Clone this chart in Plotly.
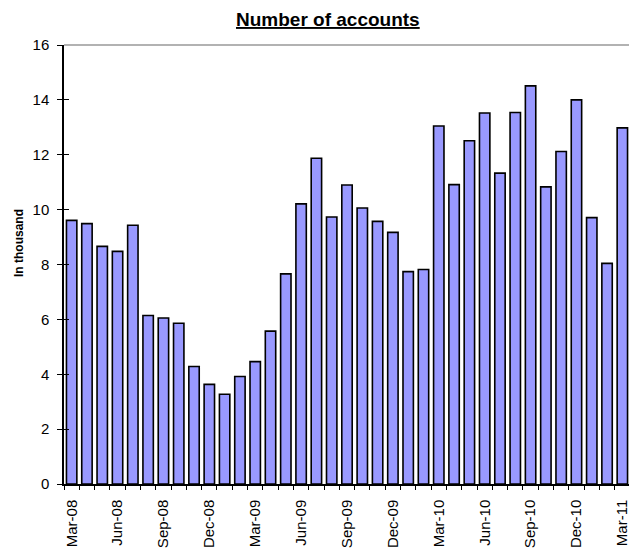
import plotly.graph_objects as go

months = ["Mar-08","Apr-08","May-08","Jun-08","Jul-08","Aug-08","Sep-08","Oct-08","Nov-08","Dec-08",
          "Jan-09","Feb-09","Mar-09","Apr-09","May-09","Jun-09","Jul-09","Aug-09","Sep-09","Oct-09",
          "Nov-09","Dec-09","Jan-10","Feb-10","Mar-10","Apr-10","May-10","Jun-10","Jul-10","Aug-10",
          "Sep-10","Oct-10","Nov-10","Dec-10","Jan-11","Feb-11","Mar-11"]
accounts = [9.61, 9.49, 8.66, 8.48, 9.43, 6.14, 6.05, 5.86, 4.28, 3.63,
            3.27, 3.92, 4.46, 5.57, 7.66, 10.21, 11.87, 9.73, 10.90, 10.06,
            9.57, 9.17, 7.74, 7.82, 13.05, 10.91, 12.51, 13.52, 11.33, 13.54,
            14.51, 10.83, 12.12, 14.00, 9.71, 8.04, 12.98]
label_step = 3
y_ticks = [0, 2, 4, 6, 8, 10, 12, 14, 16]

n = len(months)
xs = list(range(n))
tickvals = xs[::label_step]
ticktext = months[::label_step]
boundaries = [i - 0.5 for i in range(n + 1)]

W, H = 629, 547  # page body has an 8px margin
L, R, T, B = 56, 7, 37, 71
PW, PH = W - L - R, H - T - B

fig = go.Figure(go.Bar(
    x=xs, y=accounts,
    marker=dict(color="#9999FF", line=dict(color="black", width=1.6)),
    width=0.68,
))
# invisible helper trace so the overlay axis is drawn (inside ticks)
fig.add_trace(go.Scatter(x=[None], y=[None], yaxis="y2", showlegend=False, hoverinfo="skip"))

fig.update_layout(
    width=W, height=H,
    margin=dict(l=L, r=R, t=T, b=B),
    paper_bgcolor="white", plot_bgcolor="white",
    showlegend=False,
    font=dict(family="Liberation Sans, Arial, sans-serif", color="black", size=15),
    xaxis=dict(range=[-0.5, n - 0.5], tickmode="array", tickvals=tickvals, ticktext=ticktext,
               tickangle=-90, ticks="", showgrid=False, zeroline=False,
               showline=True, linecolor="black", linewidth=1.5, ticklabelstandoff=8,
               minor=dict(tickmode="array", tickvals=boundaries, ticks="outside",
                          ticklen=4, tickcolor="black", tickwidth=1, showgrid=False),
               tickfont=dict(size=15)),
    yaxis=dict(range=[0, 16], tickmode="array", tickvals=y_ticks, ticks="outside",
               ticklen=5, tickcolor="black", tickwidth=1, showgrid=False, zeroline=False,
               showline=True, linecolor="black", linewidth=1.5, ticklabelstandoff=5,
               tickfont=dict(size=15)),
    yaxis2=dict(range=[0, 16], overlaying="y", side="left", tickmode="array",
                tickvals=y_ticks, ticks="inside", ticklen=5, tickcolor="black", tickwidth=1,
                showticklabels=False, showgrid=False, zeroline=False, showline=False),
    shapes=[
        dict(type="line", xref="paper", yref="paper", x0=0, x1=1, y0=1, y1=1,
             line=dict(color="#999999", width=1.5)),
        dict(type="line", xref="paper", yref="paper", x0=1, x1=1, y0=0, y1=1,
             line=dict(color="#999999", width=1.5)),
    ],
    annotations=[
        dict(text="<b><u>Number of accounts</u></b>", xref="paper", yref="paper",
             x=(320 - L) / PW, y=1 + T / PH, xanchor="center", yanchor="top",
             showarrow=False, borderpad=0, font=dict(size=19)),
        dict(text="<b>In thousand</b>", xref="paper", yref="paper",
             x=-(L - 11) / PW, y=(476 - 235) / PH,
             xanchor="center", yanchor="middle", textangle=-90, showarrow=False,
             font=dict(size=12)),
    ],
)

fig.write_html("out.html")
